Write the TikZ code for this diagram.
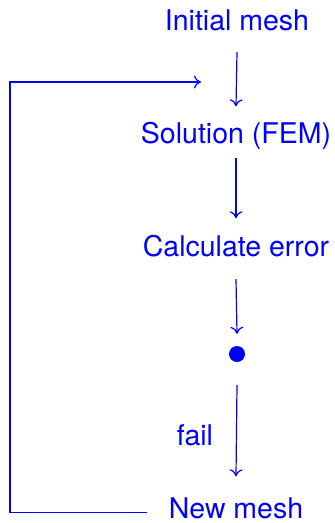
\documentclass[tikz,border=0pt]{standalone}
\usepackage{fontspec}
\setmainfont{TeX Gyre Heros}
\usetikzlibrary{arrows.meta}
\definecolor{pureblue}{RGB}{0,0,255}
\begin{document}
\begin{tikzpicture}[x=1pt,y=1pt,
  lbl/.style={anchor=base,inner sep=0pt,text height=20.5pt,text depth=0pt,text=pureblue,font=\fontsize{28.5}{34}\selectfont},
  arr/.style={draw=pureblue,line width=1.2pt,-{To[length=7pt,width=13pt]}},
  conn/.style={draw=pureblue,line width=1.2pt}]
\useasboundingbox (0,0) rectangle (335,-523);
\node[lbl] (init) at (237,-30) {Initial mesh};
\node[lbl] (sol) at (236,-143) {Solution (FEM)};
\node[lbl] (calc) at (236,-256) {Calculate error};
\node[circle,fill=pureblue,minimum size=16pt,inner sep=0pt] (dot) at (237,-354) {};
\node[lbl] (fail) at (195,-445) {fail};
\node[lbl] (new) at (236,-518) {New mesh};
\coordinate (corner) at (10,-82);
\coordinate (loopend) at (201,-82);
\draw[arr] ([yshift=-22pt]init.south) -- ([yshift=16pt]sol.north);
\draw[arr] ([yshift=-15pt]sol.south) -- ([yshift=17pt]calc.north);
\draw[arr] ([yshift=-23pt]calc.south) -- ([yshift=12pt]dot.north);
\draw[arr] ([yshift=-23pt]dot.south) -- ([yshift=21pt]new.north);
\draw[arr] ([xshift=-22pt,yshift=-5pt]new.west) -| (corner) -- (loopend);
\end{tikzpicture}
\end{document}
